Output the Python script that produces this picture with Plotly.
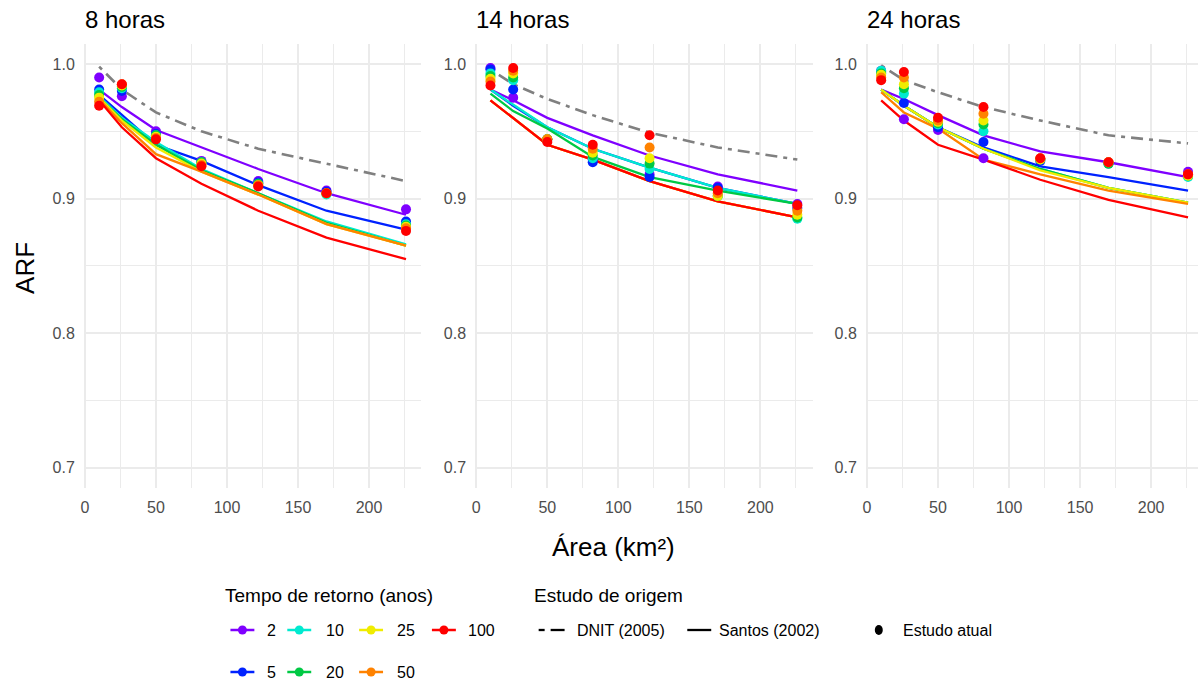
import plotly.graph_objects as go

# ---------------- data ----------------
AREA = [10, 26, 50, 82, 122, 170, 226]
RETURN_PERIODS = ["2", "5", "10", "20", "25", "50", "100"]
PANEL_TITLES = ["8 horas", "14 horas", "24 horas"]
X_TICKS = [0, 50, 100, 150, 200]
Y_TICKS = [0.7, 0.8, 0.9, 1.0]
Y_TICK_TEXT = ["0.7", "0.8", "0.9", "1.0"]

# DNIT (2005) curves
dnit_8h = [0.998, 0.981, 0.964, 0.950, 0.937, 0.926, 0.913]
dnit_14h = [0.996, 0.985, 0.974, 0.962, 0.949, 0.938, 0.929]
dnit_24h = [0.999, 0.988, 0.979, 0.968, 0.958, 0.947, 0.941]

# Santos (2002) curves, one list per return period (2, 5, 10, 20, 25, 50, 100)
santos_8h = [
    [0.981, 0.968, 0.951, 0.938, 0.922, 0.904, 0.888],
    [0.977, 0.962, 0.940, 0.928, 0.910, 0.891, 0.877],
    [0.976, 0.960, 0.942, 0.922, 0.904, 0.883, 0.866],
    [0.975, 0.959, 0.940, 0.921, 0.904, 0.882, 0.865],
    [0.975, 0.958, 0.938, 0.920, 0.903, 0.881, 0.865],
    [0.974, 0.956, 0.933, 0.920, 0.903, 0.881, 0.865],
    [0.973, 0.953, 0.930, 0.911, 0.891, 0.871, 0.855],
]
santos_14h = [
    [0.981, 0.973, 0.960, 0.947, 0.932, 0.918, 0.906],
    [0.981, 0.969, 0.953, 0.937, 0.923, 0.908, 0.896],
    [0.981, 0.970, 0.953, 0.937, 0.923, 0.908, 0.896],
    [0.978, 0.965, 0.952, 0.931, 0.916, 0.906, 0.896],
    [0.973, 0.960, 0.940, 0.929, 0.913, 0.898, 0.886],
    [0.973, 0.960, 0.940, 0.929, 0.913, 0.898, 0.886],
    [0.973, 0.960, 0.940, 0.929, 0.913, 0.898, 0.886],
]
santos_24h = [
    [0.981, 0.974, 0.962, 0.947, 0.935, 0.927, 0.916],
    [0.981, 0.969, 0.953, 0.938, 0.924, 0.916, 0.906],
    [0.981, 0.969, 0.953, 0.937, 0.922, 0.908, 0.897],
    [0.981, 0.969, 0.953, 0.937, 0.922, 0.908, 0.897],
    [0.981, 0.969, 0.953, 0.937, 0.921, 0.908, 0.897],
    [0.979, 0.964, 0.952, 0.929, 0.918, 0.906, 0.896],
    [0.973, 0.958, 0.940, 0.929, 0.914, 0.899, 0.886],
]

# Estudo atual points, one list per return period
atual_8h = [
    [0.990, 0.976, 0.950, 0.928, 0.913, 0.906, 0.892],
    [0.981, 0.980, 0.948, 0.927, 0.912, 0.905, 0.883],
    [0.979, 0.982, 0.947, 0.927, 0.911, 0.903, 0.881],
    [0.977, 0.983, 0.947, 0.927, 0.911, 0.904, 0.880],
    [0.975, 0.984, 0.946, 0.926, 0.910, 0.904, 0.879],
    [0.972, 0.985, 0.945, 0.925, 0.910, 0.904, 0.878],
    [0.969, 0.985, 0.944, 0.924, 0.909, 0.904, 0.876],
]
atual_14h = [
    [0.997, 0.975, 0.944, 0.929, 0.918, 0.909, 0.896],
    [0.996, 0.981, 0.944, 0.927, 0.916, 0.908, 0.893],
    [0.993, 0.988, 0.944, 0.930, 0.922, 0.902, 0.885],
    [0.991, 0.990, 0.944, 0.932, 0.926, 0.902, 0.886],
    [0.989, 0.993, 0.944, 0.934, 0.930, 0.902, 0.888],
    [0.987, 0.995, 0.944, 0.937, 0.938, 0.904, 0.891],
    [0.984, 0.997, 0.942, 0.940, 0.947, 0.906, 0.895],
]
atual_24h = [
    [0.995, 0.959, 0.951, 0.930, 0.929, 0.927, 0.920],
    [0.994, 0.971, 0.953, 0.942, 0.928, 0.926, 0.917],
    [0.995, 0.978, 0.955, 0.950, 0.929, 0.926, 0.916],
    [0.993, 0.982, 0.956, 0.955, 0.929, 0.926, 0.917],
    [0.992, 0.985, 0.957, 0.958, 0.929, 0.927, 0.917],
    [0.990, 0.990, 0.958, 0.963, 0.930, 0.927, 0.918],
    [0.988, 0.994, 0.960, 0.968, 0.930, 0.927, 0.918],
]

DNIT = [dnit_8h, dnit_14h, dnit_24h]
SANTOS = [santos_8h, santos_14h, santos_24h]
ATUAL = [atual_8h, atual_14h, atual_24h]

# ---------------- style ----------------
COLORS = ["#7F00FF", "#0022FF", "#00EAD0", "#00C944", "#F0EC00", "#FF8200", "#FF0000"]
W, H = 1198, 682
FONT = "Liberation Sans, Arial, sans-serif"
GRID = "#EBEBEB"
TICK_COLOR = "#4D4D4D"
PX_PER_UNIT = 338.4 / 237.6
PANEL_PX = [(81.0, 419.4), (473.3, 811.7), (865.0, 1198.0)]
PLOT_TOP, PLOT_BOTTOM = 43.8, 488.0


def fx(p):
    return p / W


def fy(p):
    return 1 - p / H


fig = go.Figure()

for i in range(3):
    xa = "x" if i == 0 else f"x{i + 1}"
    ya = "y" if i == 0 else f"y{i + 1}"
    # Santos lines
    for k, tr in enumerate(RETURN_PERIODS):
        fig.add_trace(go.Scatter(
            x=AREA, y=SANTOS[i][k], mode="lines", xaxis=xa, yaxis=ya,
            line=dict(color=COLORS[k], width=2.3), showlegend=False, hoverinfo="skip"))
    # DNIT dashed
    fig.add_trace(go.Scatter(
        x=AREA, y=DNIT[i], mode="lines", xaxis=xa, yaxis=ya,
        line=dict(color="#808080", width=2.6, dash="4px,6px,12px,6px"),
        showlegend=False, hoverinfo="skip"))
    # points
    for k, tr in enumerate(RETURN_PERIODS):
        fig.add_trace(go.Scatter(
            x=AREA, y=ATUAL[i][k], mode="markers", xaxis=xa, yaxis=ya,
            marker=dict(color=COLORS[k], size=10, line=dict(width=0)),
            showlegend=False, hoverinfo="skip"))

layout = dict(
    width=W, height=H, margin=dict(l=0, r=0, t=0, b=0),
    paper_bgcolor="white", plot_bgcolor="white",
    font=dict(family=FONT, color="black"),
    showlegend=False,
)

for i in range(3):
    left, right = PANEL_PX[i]
    x0 = -0.8
    x1 = x0 + (right - left) / PX_PER_UNIT
    xkey = "xaxis" if i == 0 else f"xaxis{i + 1}"
    ykey = "yaxis" if i == 0 else f"yaxis{i + 1}"
    anchor_y = "y" if i == 0 else f"y{i + 1}"
    anchor_x = "x" if i == 0 else f"x{i + 1}"
    layout[xkey] = dict(
        domain=[fx(left), fx(right)], range=[x0, x1], anchor=anchor_y,
        tickvals=X_TICKS, ticktext=[str(v) for v in X_TICKS],
        showgrid=True, gridcolor=GRID, gridwidth=1.6, zeroline=False,
        showline=False, ticks="", ticklabelstandoff=8,
        tickfont=dict(size=16, color=TICK_COLOR, family=FONT),
        minor=dict(tick0=0, dtick=25, showgrid=True, gridcolor=GRID, gridwidth=0.8),
    )
    layout[ykey] = dict(
        domain=[fy(PLOT_BOTTOM), fy(PLOT_TOP)], range=[0.685, 1.015], anchor=anchor_x,
        tickvals=Y_TICKS, ticktext=Y_TICK_TEXT,
        showgrid=True, gridcolor=GRID, gridwidth=1.6, zeroline=False,
        showline=False, ticks="", ticklabelstandoff=8,
        tickfont=dict(size=16, color=TICK_COLOR, family=FONT),
        minor=dict(tick0=0.65, dtick=0.05, showgrid=True, gridcolor=GRID, gridwidth=0.8),
    )

annotations = []
shapes = []

# panel titles
for i, t in enumerate(PANEL_TITLES):
    annotations.append(dict(
        text=t, x=fx(PANEL_PX[i][0] - 1), y=fy(20), xref="paper", yref="paper",
        xanchor="left", yanchor="middle", showarrow=False,
        font=dict(size=24, color="black", family=FONT)))

# axis titles
annotations.append(dict(text="ARF", x=fx(22), y=fy(268), xref="paper", yref="paper",
                        textangle=-90, showarrow=False, xanchor="center", yanchor="middle",
                        font=dict(size=26, color="black", family=FONT)))
annotations.append(dict(text="Área (km²)", x=fx(612), y=fy(547), xref="paper", yref="paper",
                        showarrow=False, xanchor="center", yanchor="middle",
                        font=dict(size=26, color="black", family=FONT)))

# ---- custom legend ----
annotations.append(dict(text="Tempo de retorno (anos)", x=fx(221), y=fy(595), xref="paper",
                        yref="paper", xanchor="left", yanchor="middle", showarrow=False,
                        font=dict(size=19, color="black", family=FONT)))
annotations.append(dict(text="Estudo de origem", x=fx(530), y=fy(595), xref="paper",
                        yref="paper", xanchor="left", yanchor="middle", showarrow=False,
                        font=dict(size=19, color="black", family=FONT)))

col_icon = [240, 297, 369, 442]
col_text = [263, 322, 393, 464]
# order in legend: 2,10,25,100 on row 1; 5,20,50 on row 2
legend_pos = {"2": (0, 0), "10": (0, 1), "25": (0, 2), "100": (0, 3),
              "5": (1, 0), "20": (1, 1), "50": (1, 2)}
row_y = [630, 672]
for k, tr in enumerate(RETURN_PERIODS):
    r, c = legend_pos[tr]
    cx, cy = col_icon[c], row_y[r]
    shapes.append(dict(type="line", xref="paper", yref="paper",
                       x0=fx(cx - 12), x1=fx(cx + 12), y0=fy(cy), y1=fy(cy),
                       line=dict(color=COLORS[k], width=2.5)))
    shapes.append(dict(type="circle", xref="paper", yref="paper",
                       x0=fx(cx - 4.5), x1=fx(cx + 4.5), y0=fy(cy - 4.5), y1=fy(cy + 4.5),
                       fillcolor=COLORS[k], line=dict(width=0)))
    annotations.append(dict(text=tr, x=fx(col_text[c]), y=fy(cy), xref="paper", yref="paper",
                            xanchor="left", yanchor="middle", showarrow=False,
                            font=dict(size=16, color="black", family=FONT)))

# origin legend
ly = 630
shapes.append(dict(type="line", xref="paper", yref="paper", x0=fx(537), x1=fx(543),
                   y0=fy(ly), y1=fy(ly), line=dict(color="black", width=2.3)))
shapes.append(dict(type="line", xref="paper", yref="paper", x0=fx(549), x1=fx(563),
                   y0=fy(ly), y1=fy(ly), line=dict(color="black", width=2.3)))
annotations.append(dict(text="DNIT (2005)", x=fx(573), y=fy(ly), xref="paper", yref="paper",
                        xanchor="left", yanchor="middle", showarrow=False,
                        font=dict(size=16, color="black", family=FONT)))
shapes.append(dict(type="line", xref="paper", yref="paper", x0=fx(686), x1=fx(710),
                   y0=fy(ly), y1=fy(ly), line=dict(color="black", width=2.3)))
annotations.append(dict(text="Santos (2002)", x=fx(716), y=fy(ly), xref="paper", yref="paper",
                        xanchor="left", yanchor="middle", showarrow=False,
                        font=dict(size=16, color="black", family=FONT)))
shapes.append(dict(type="circle", xref="paper", yref="paper",
                   x0=fx(874), x1=fx(882), y0=fy(ly - 5), y1=fy(ly + 5),
                   fillcolor="black", line=dict(width=0)))
annotations.append(dict(text="Estudo atual", x=fx(900), y=fy(ly), xref="paper", yref="paper",
                        xanchor="left", yanchor="middle", showarrow=False,
                        font=dict(size=16, color="black", family=FONT)))

layout["annotations"] = annotations
layout["shapes"] = shapes
fig.update_layout(**layout)

fig.write_html(
    "out.html",
    config={"displayModeBar": False},
    post_script="document.body.style.margin='0';document.body.style.padding='0';",
)
